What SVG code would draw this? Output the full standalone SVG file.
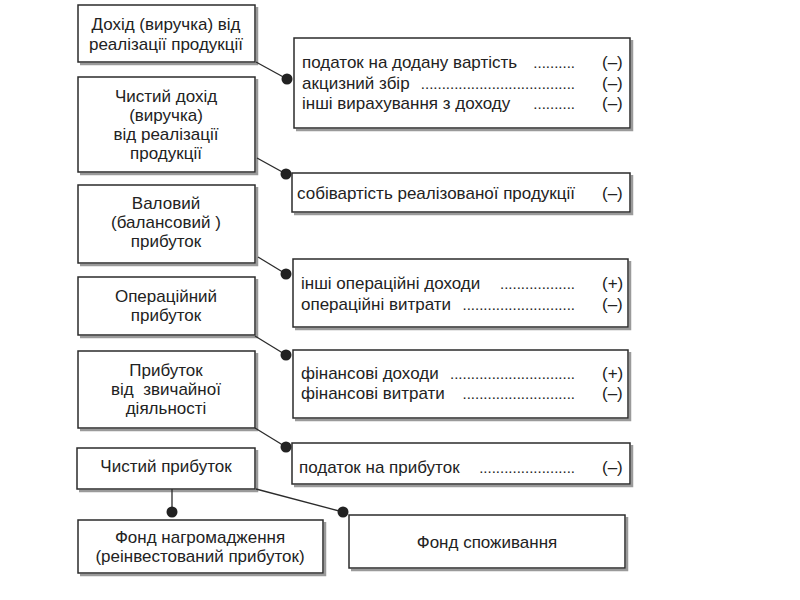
<svg xmlns="http://www.w3.org/2000/svg" width="800" height="600" viewBox="0 0 800 600">
<style>
.box{fill:#fff;stroke:#2b2b2b;stroke-width:1.5}
.sh{fill:none;stroke:#9a9a9a;stroke-width:2.5}
.t{font-family:"Liberation Sans",Arial,sans-serif;font-size:17px;fill:#222}
.c{text-anchor:middle}
.e{text-anchor:end;font-size:15px}
.con line{stroke:#2b2b2b;stroke-width:1.3}
.dot{fill:#222}
</style>
<rect width="800" height="600" fill="#fff"/>
<g id="n1">
<polyline class="sh" points="80,64 257,64 257,7"/>
<rect class="box" x="78" y="5" width="177" height="57"/>
<text class="t c" x="166" y="30">Дохід (виручка) від</text>
<text class="t c" x="166" y="50">реалізації продукції</text>
</g>
<g id="n2">
<polyline class="sh" points="80,174 257,174 257,79"/>
<rect class="box" x="78" y="77" width="177" height="95"/>
<text class="t c" x="166" y="102">Чистий дохід</text>
<text class="t c" x="166" y="121">(виручка)</text>
<text class="t c" x="166" y="140">від реалізації</text>
<text class="t c" x="166" y="159">продукції</text>
</g>
<g id="n3">
<polyline class="sh" points="80,265 257,265 257,187"/>
<rect class="box" x="78" y="185" width="177" height="78"/>
<text class="t c" x="166" y="209">Валовий</text>
<text class="t c" x="166" y="228">(балансовий )</text>
<text class="t c" x="166" y="247">прибуток</text>
</g>
<g id="n4">
<polyline class="sh" points="80,337 257,337 257,279"/>
<rect class="box" x="78" y="277" width="177" height="58"/>
<text class="t c" x="166" y="302">Операційний</text>
<text class="t c" x="166" y="321">прибуток</text>
</g>
<g id="n5">
<polyline class="sh" points="80,430 257,430 257,353"/>
<rect class="box" x="78" y="351" width="177" height="77"/>
<text class="t c" x="166" y="376">Прибуток</text>
<text class="t c" x="166" y="395" xml:space="preserve">від  звичайної</text>
<text class="t c" x="166" y="414">діяльності</text>
</g>
<g id="n6">
<polyline class="sh" points="79,491 257,491 257,450"/>
<rect class="box" x="77" y="448" width="178" height="41"/>
<text class="t c" x="166" y="472">Чистий прибуток</text>
</g>
<g id="n7">
<polyline class="sh" points="80,575 325,575 325,522"/>
<rect class="box" x="78" y="520" width="245" height="53"/>
<text class="t c" x="200" y="543">Фонд нагромадження</text>
<text class="t c" x="200" y="562">(реінвестований прибуток)</text>
</g>
<g id="n8">
<polyline class="sh" points="351,570 627,570 627,517"/>
<rect class="box" x="349" y="515" width="276" height="53"/>
<text class="t c" x="487" y="548">Фонд споживання</text>
</g>
<g id="r1">
<polyline class="sh" points="296,130 632,130 632,40"/>
<rect class="box" x="294" y="38" width="336" height="90"/>
<text class="t" x="302" y="68">податок на додану вартість</text>
<text class="t e" x="575" y="68">..........</text>
<text class="t" x="602" y="68">(–)</text>
<text class="t" x="302" y="89">акцизний збір</text>
<text class="t e" x="575" y="89">.....................................</text>
<text class="t" x="602" y="89">(–)</text>
<text class="t" x="302" y="109">інші вирахування з доходу</text>
<text class="t e" x="575" y="109">..........</text>
<text class="t" x="602" y="109">(–)</text>
</g>
<g id="r2">
<polyline class="sh" points="294,214 632,214 632,175"/>
<rect class="box" x="292" y="173" width="338" height="39"/>
<text class="t" x="297" y="199">собівартість реалізованої продукції</text>
<text class="t" x="602" y="199">(–)</text>
</g>
<g id="r3">
<polyline class="sh" points="295,329 630,329 630,261"/>
<rect class="box" x="293" y="259" width="335" height="68"/>
<text class="t" x="301" y="289">інші операційні доходи</text>
<text class="t e" x="575" y="289">..................</text>
<text class="t" x="602" y="289">(+)</text>
<text class="t" x="301" y="310">операційні витрати</text>
<text class="t e" x="575" y="310">...........................</text>
<text class="t" x="602" y="310">(–)</text>
</g>
<g id="r4">
<polyline class="sh" points="295,420 630,420 630,352"/>
<rect class="box" x="293" y="350" width="335" height="68"/>
<text class="t" x="301" y="379">фінансові доходи</text>
<text class="t e" x="575" y="379">..............................</text>
<text class="t" x="602" y="379">(+)</text>
<text class="t" x="301" y="399">фінансові витрати</text>
<text class="t e" x="575" y="399">...........................</text>
<text class="t" x="602" y="399">(–)</text>
</g>
<g id="r5">
<polyline class="sh" points="294,486 632,486 632,445"/>
<rect class="box" x="292" y="443" width="338" height="41"/>
<text class="t" x="299" y="473">податок на прибуток</text>
<text class="t e" x="575" y="473">.......................</text>
<text class="t" x="602" y="473">(–)</text>
</g>
<g id="connectors">
<g class="con">
<line x1="256" y1="62" x2="287" y2="79"/>
<line x1="257" y1="158" x2="286" y2="174"/>
<line x1="258" y1="257" x2="286" y2="274"/>
<line x1="255" y1="336" x2="286" y2="355"/>
<line x1="255" y1="428" x2="286" y2="447"/>
<line x1="172" y1="489" x2="172" y2="512"/>
<line x1="256" y1="489" x2="343" y2="512"/>
</g>
<circle class="dot" cx="287" cy="79" r="5.5"/>
<circle class="dot" cx="286" cy="174" r="5.5"/>
<circle class="dot" cx="286" cy="274" r="5.5"/>
<circle class="dot" cx="286" cy="355" r="5.5"/>
<circle class="dot" cx="286" cy="447" r="5.5"/>
<circle class="dot" cx="172" cy="512" r="5.5"/>
<circle class="dot" cx="343" cy="512" r="5.5"/>
</g>
</svg>
